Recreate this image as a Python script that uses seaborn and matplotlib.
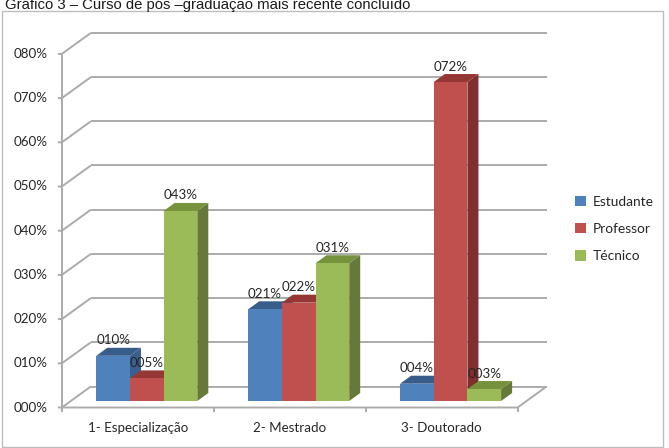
import matplotlib
matplotlib.use("Agg")
import matplotlib.pyplot as plt
from matplotlib.patches import Polygon, Rectangle
import pandas as pd
import seaborn as sns

#----------------------------------------------------------
# Data
#----------------------------------------------------------
categorias = ["1- Especialização", "2- Mestrado", "3- Doutorado"]
grupos = ["Estudante", "Professor", "Técnico"]
estudante = [10.2, 20.7, 3.9]
professor = [5.1, 22.2, 72.0]
tecnico = [42.9, 31.1, 2.7]
rotulos = ["010%", "021%", "004%", "005%", "022%", "072%", "043%", "031%", "003%"]
ticks = [0, 10, 20, 30, 40, 50, 60, 70, 80]
titulo = "Gráfico 3 – Curso de pós –graduação mais recente concluído"

frente = ["#4F81BD", "#C0504D", "#9BBB59"]
lado = ["#3A5F8E", "#7F2F2D", "#66793A"]
topo = ["#385D8A", "#953735", "#76923C"]
COR_GRADE = "#ABABAB"
COR_TEXTO = "#262626"
FONTE = 9.6

# scale of the picture: pixels per category and per percent point
W, H = 669, 448
PX_CAT = 151.9
PX_PCT = 4.43
X0_PX, Y0_PX = 146.8, 401.0


def dx(px):
    return px / PX_CAT


def dy(px):
    return px / PX_PCT


#----------------------------------------------------------
# Figure
#----------------------------------------------------------
sns.set_theme(style="white")
plt.rcParams["font.family"] = ["Lato", "DejaVu Sans"]

df = pd.DataFrame({
    "categoria": categorias * 3,
    "grupo": [g for g in grupos for _ in categorias],
    "valor": estudante + professor + tecnico,
})

fig = plt.figure(figsize=(W / 100, H / 100), dpi=100)
ax = fig.add_axes([0, 0, 1, 1])

sns.barplot(data=df, x="categoria", y="valor", hue="grupo", hue_order=grupos,
            palette=frente, width=0.665, gap=0, saturation=1, ax=ax, linewidth=0)

ax.set_xlim(-X0_PX / PX_CAT, (W - X0_PX) / PX_CAT)
ax.set_ylim((Y0_PX - H) / PX_PCT, Y0_PX / PX_PCT)
ax.axis("off")

# 3D sides and tops, taken from the bars seaborn drew. Painted left to right
barras = list(ax.patches)[:9]
ordem = sorted(range(9), key=lambda k: barras[k].get_x())
lado_x = dx(11)
lado_y = dy(8)

for n, k in enumerate(ordem):
    b = barras[k]
    s = k // 3
    x1, x2, h = b.get_x(), b.get_x() + b.get_width(), b.get_height()
    z = 3 + n
    ax.add_patch(Polygon([(x2, 0), (x2 + lado_x, lado_y), (x2 + lado_x, h + lado_y), (x2, h)],
                         facecolor=lado[s], edgecolor="none", zorder=z))
    ax.add_patch(Polygon([(x1, h), (x1 + lado_x, h + lado_y), (x2 + lado_x, h + lado_y), (x2, h)],
                         facecolor=topo[s], edgecolor="none", zorder=z))
    b.set_zorder(z + 0.5)
    ax.text((x1 + x2) / 2, h + dy(15.5), rotulos[k], ha="center", va="center",
            fontsize=FONTE, color=COR_TEXTO, zorder=30)

# outer frame of the chart
ax.add_patch(Rectangle((1.5 / W, 1 - 447 / H), 661.5 / W, 435.5 / H, transform=ax.transAxes,
                       fill=False, edgecolor="#BDBDBD", lw=1, clip_on=False, zorder=1))

# walls and floor
base = -dy(6.5)
esq = -0.5 - dx(9)
dir_ = 2.5 - dx(9)
prof_x = dx(29)
prof_y = dy(21)
grade = dict(color=COR_GRADE, lw=1.4, zorder=2, solid_capstyle="butt")

for t in ticks:
    y = base + t * 4.42 / PX_PCT
    ax.plot([esq - dx(4), esq, esq + prof_x], [y, y, y + prof_y], **grade)
    ax.plot([esq + prof_x, dir_ + prof_x], [y + prof_y, y + prof_y], **grade)
    ax.text(esq - dx(14.5), y, f"{t:03d}%", ha="right", va="center", fontsize=FONTE, color=COR_TEXTO)

y_topo = base + ticks[-1] * 4.42 / PX_PCT
ax.plot([esq, esq], [base, y_topo], **grade)
ax.plot([esq, dir_, dir_ + prof_x], [base, base, base + prof_y], **grade)
for i in range(4):
    ax.plot([esq + i, esq + i], [base, base - dy(4)], **grade)

for i, c in enumerate(categorias):
    ax.text(i - dx(9), base - dy(20), c, ha="center", va="center", fontsize=FONTE, color=COR_TEXTO)

# legend
ax.legend(title=None, frameon=False, loc="center left", bbox_to_anchor=(575 / W, 1 - 229 / H),
          fontsize=9.9, handlelength=0.8, handleheight=0.8, handletextpad=0.5,
          labelspacing=1.1, labelcolor=COR_TEXTO, borderpad=0, borderaxespad=0)

# caption, cut by the top of the picture as in the original
fig.text(5 / W, 1 - 8.5 / H, titulo, ha="left", va="baseline", fontsize=10.7,
         family="Liberation Sans", color="#1A1A1A")

fig.savefig("out.png", dpi=100)
